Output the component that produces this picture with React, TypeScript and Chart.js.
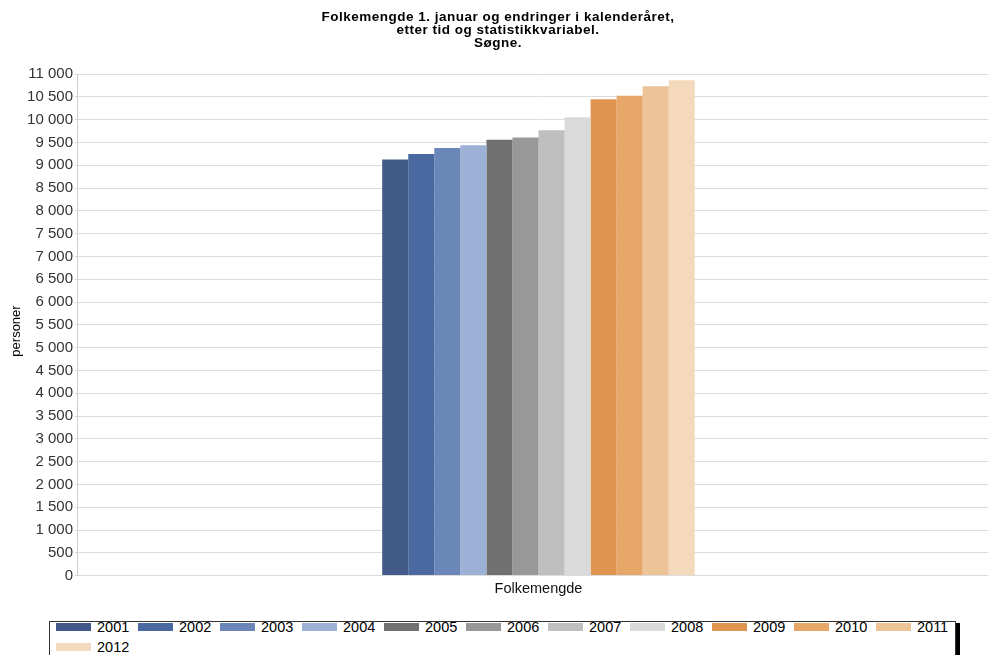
import React, { useEffect, useRef } from "react";
import { Chart, registerables } from "chart.js";

Chart.register(...registerables);

const categories = ["Folkemengde"];
const years = ["2001", "2002", "2003", "2004", "2005", "2006", "2007", "2008", "2009", "2010", "2011", "2012"];
const values = [9127, 9244, 9375, 9435, 9558, 9610, 9764, 10049, 10445, 10524, 10730, 10862];
const colors = [
  "#425a88", "#4a69a0", "#6a87b8", "#9db0d6",
  "#717171", "#989898", "#bfbfbf", "#dadada",
  "#df944f", "#e6a768", "#edc398", "#f4d9bd",
];
const titleLines = [
  "Folkemengde 1. januar og endringer i kalenderåret,",
  "etter tid og statistikkvariabel.",
  "Søgne.",
];
const yAxisTitle = "personer";

const FONT = "'Liberation Sans', Arial, sans-serif";

const titlePlugin = {
  id: "customTitle",
  afterDraw(chart: any) {
    const { ctx } = chart;
    ctx.save();
    ctx.font = `bold 13.5px ${FONT}`;
    try { (ctx as any).letterSpacing = "0.5px"; } catch (e) {}
    ctx.fillStyle = "#000";
    ctx.textAlign = "center";
    ctx.textBaseline = "alphabetic";
    titleLines.forEach((l, i) => ctx.fillText(l, 498, 20.5 + i * 13));
    ctx.restore();
    ctx.save();
    try { (ctx as any).letterSpacing = "0px"; } catch (e) {}
    ctx.font = `13px ${FONT}`;
    ctx.fillStyle = "#000";
    ctx.textAlign = "center";
    ctx.textBaseline = "middle";
    ctx.translate(16, 331);
    ctx.rotate(-Math.PI / 2);
    ctx.fillText(yAxisTitle, 0, 0);
    ctx.restore();
  },
};

export default function App() {
  const ref = useRef<HTMLCanvasElement>(null);
  useEffect(() => {
    const chart = new Chart(ref.current!, {
      type: "bar",
      data: {
        labels: categories,
        datasets: years.map((y, i) => ({
          label: y,
          data: [values[i]],
          backgroundColor: colors[i],
          borderWidth: 0,
          categoryPercentage: 0.3394,
          barPercentage: 1,
        })),
      },
      options: {
        animation: false,
        responsive: false,
        maintainAspectRatio: false,
        layout: { padding: { top: 74, right: 1, left: 6, bottom: 0 } },
        plugins: {
          legend: { display: false },
          tooltip: { enabled: false },
          title: { display: false },
        },
        scales: {
          x: {
            grid: { display: false, drawTicks: false },
            border: { display: false },
            ticks: { color: "#111", font: { family: FONT, size: 14.5 }, padding: 5 },
          },
          y: {
            min: 0,
            max: 11000,
            ticks: {
              stepSize: 500,
              color: "#333",
              font: { family: FONT, size: 15 },
              padding: 2,
              callback: (v: any) => String(v).replace(/\B(?=(\d{3})+(?!\d))/g, " "),
            },
            grid: { color: "#dcdcdc", tickLength: 3, drawTicks: true },
            border: { display: true, color: "#d0d0d0" },
            title: {
              display: true,
              text: yAxisTitle,
              color: "rgba(0,0,0,0)",
              font: { family: FONT, size: 13 },
              padding: { top: 2, bottom: 1.5 },
            },
          },
        },
      },
      plugins: [titlePlugin],
    });
    return () => chart.destroy();
  }, []);

  const row1 = years.slice(0, 11);
  const row2 = years.slice(11);
  const item = (y: string, i: number, x: number, top: number) => (
    <div key={y} style={{ position: "absolute", left: x, top, height: 16, display: "flex", alignItems: "center" }}>
      <div style={{ width: 35, height: 8, background: colors[i] }} />
      <span style={{ marginLeft: 6, fontFamily: FONT, fontSize: 14.5, color: "#000", lineHeight: "16px" }}>{y}</span>
    </div>
  );

  return (
    <div style={{ position: "absolute", left: 0, top: 0, width: 988, height: 655, overflow: "hidden", background: "#fff" }}>
      <canvas ref={ref} width={1000} height={603} style={{ position: "absolute", left: 0, top: 0 }} />
      <div style={{ position: "absolute", left: 49, top: 621, width: 905, height: 60, border: "1px solid #333", background: "#fff" }} />
      <div style={{ position: "absolute", left: 956, top: 623, width: 4, height: 40, background: "#000" }} />
      {row1.map((y, i) => item(y, i, 56 + i * 82, 619))}
      {row2.map((y, i) => item(y, 11 + i, 56, 638.5))}
    </div>
  );
}
